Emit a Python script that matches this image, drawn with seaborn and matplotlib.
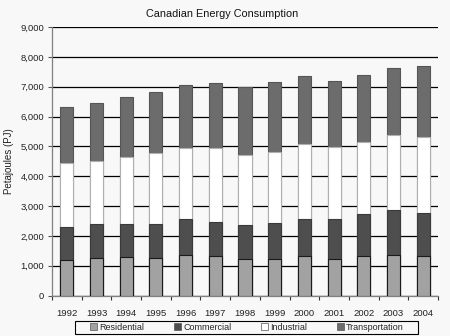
import numpy as np
import pandas as pd
import matplotlib
matplotlib.use("Agg")
import matplotlib.pyplot as plt
import seaborn as sns
from matplotlib.patches import Patch, Rectangle
from matplotlib.ticker import FuncFormatter, MultipleLocator, FixedLocator

years = ["1992", "1993", "1994", "1995", "1996", "1997", "1998", "1999", "2000", "2001", "2002", "2003", "2004"]
residential = [1200, 1260, 1290, 1260, 1370, 1310, 1210, 1240, 1310, 1240, 1310, 1370, 1340]
commercial = [1080, 1120, 1110, 1150, 1180, 1170, 1140, 1180, 1270, 1310, 1410, 1480, 1440]
industrial = [2170, 2140, 2230, 2350, 2380, 2450, 2350, 2380, 2490, 2420, 2410, 2520, 2520]
transportation = [1880, 1940, 2020, 2050, 2120, 2180, 2280, 2350, 2280, 2210, 2250, 2250, 2380]
series_names = ["Residential", "Commercial", "Industrial", "Transportation"]
colors = ["#a2a2a2", "#4e4e4e", "#ffffff", "#6c6c6c"]
edges = ["#1a1a1a", "#3a3a3a", "#b0b0b0", "#555555"]

sns.set_theme(style="white")
plt.rcParams['font.family'] = ['Liberation Sans', 'DejaVu Sans']

df = pd.DataFrame({"year": years, "Residential": residential, "Commercial": commercial,
                   "Industrial": industrial, "Transportation": transportation})
cum = df[series_names].cumsum(axis=1)

W, H = 450, 336
fig = plt.figure(figsize=(W / 100, H / 100), dpi=100)
fig.patch.set_facecolor("#f8f8f8")
ax = fig.add_axes([52 / W, 40.5 / H, 386 / W, 268.5 / H])
ax.set_facecolor("#f8f8f8")

for name, col, ec in reversed(list(zip(series_names, colors, edges))):
    sns.barplot(x=df["year"], y=cum[name], color=col, width=0.44, ax=ax,
                edgecolor=ec, linewidth=0.8, saturation=1, zorder=3)

ax.set_ylim(0, 9000)
ax.set_xlim(-0.5, len(years) - 0.5)
ax.yaxis.set_major_locator(MultipleLocator(1000))
ax.yaxis.set_major_formatter(FuncFormatter(lambda v, p: f"{int(v):,}"))
ax.grid(axis="y", color="#000000", linewidth=0.9, zorder=0)
ax.set_axisbelow(True)
ax.set_xlabel("")
ax.set_ylabel("Petajoules (PJ)", fontsize=7, color="#222222", labelpad=5)

fig.text(222 / W, 1 - 14 / H, "Canadian Energy Consumption", ha="center", va="center",
         fontsize=7.8, color="#111111")

for s in ["top", "right"]:
    ax.spines[s].set_visible(False)
ax.spines["left"].set_color("#808080")
ax.spines["bottom"].set_color("#808080")
ax.spines["left"].set_linewidth(0.9)
ax.spines["bottom"].set_linewidth(0.9)

ax.tick_params(axis="y", which="major", left=True, length=3, width=0.8, color="#555555",
               labelsize=6.8, labelcolor="#222222", pad=2.5)
ax.tick_params(axis="x", which="major", bottom=False, labelsize=6.8, labelcolor="#222222", pad=3.5)
ax.xaxis.set_minor_locator(FixedLocator(np.arange(-0.5, len(years), 1.0)))
ax.tick_params(axis="x", which="minor", bottom=True, length=3, width=0.8, color="#333333")

# legend frame
fig.patches.append(Rectangle((75 / W, 2.5 / H), 343 / W, 12.5 / H, transform=fig.transFigure,
                             facecolor="#f8f8f8", edgecolor="#000000", linewidth=0.8))
handles = [Patch(facecolor=c, edgecolor="#555555", linewidth=0.5, label=n) for n, c in zip(series_names, colors)]
leg = fig.legend(handles=handles, loc="center", bbox_to_anchor=(247 / W, 8.8 / H), ncol=4,
                 fontsize=6.5, frameon=False,
                 handlelength=0.75, handleheight=0.75, handletextpad=0.25, columnspacing=3.3,
                 borderpad=0.0)

fig.savefig("out.png", dpi=100, facecolor=fig.get_facecolor())
